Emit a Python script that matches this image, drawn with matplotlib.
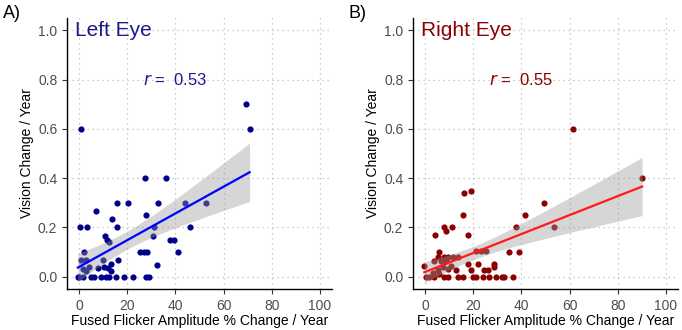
import numpy as np
import matplotlib
matplotlib.use("Agg")
import matplotlib.pyplot as plt

plt.rcParams['font.family'] = ['Liberation Sans', 'DejaVu Sans']

# left eye: flicker amplitude % change / year vs vision change / year
left_x = [0.5, 3.3, 15.8, 10.8, 11.6, 12.6, 30.6, 37.9, 39.5, 1.9, 25.4, 26.8, 28.2,
          40.9, 0.8, 2.9, 9.8, 16.0, 32.4, 13.3, 4.3, 7.7, 10.5, 11.9, 1.5, 2.9, 13.3,
          -0.5, 0.0, 1.5, 5.0, 6.3, 9.1, 11.2, 12.6, 15.4, 18.8, 22.3, 27.8, 29.2,
          1.0, 69.4, 70.8, 27.3, 35.9, 15.6, 20.4, 32.6, 43.9, 52.8, 7.0, 27.7, 13.8,
          31.0, 46.2]
left_y = [0.2, 0.2, 0.2, 0.167, 0.15, 0.14, 0.166, 0.15, 0.15, 0.1, 0.1, 0.1, 0.1,
          0.1, 0.069, 0.069, 0.069, 0.069, 0.049, 0.051, 0.038, 0.035, 0.038, 0.035, 0.031, 0.022, 0.025,
          0.0, 0.0, 0.0, 0.0, 0.0, 0.0, 0.0, 0.0, 0.0, 0.0, 0.0, 0.0, 0.0,
          0.6, 0.7, 0.6, 0.4, 0.4, 0.3, 0.3, 0.3, 0.3, 0.3, 0.266, 0.25, 0.233,
          0.2, 0.2]

# right eye
right_x = [7.7, 8.7, 11.2, 17.7, 4.1, 37.8, 21.2, 23.2, 25.3, 34.7, 38.8, 5.9,
           5.2, 8.0, 9.4, 11.5, 13.5, 3.9, 6.6, 8.7, -0.3, 17.7, 21.8, 28.8, 28.8,
           12.9, 19.1, 24.6, 26.0, 5.2, 7.3, 9.4, 10.8, 3.2, 5.9,
           0.4, 1.8, 3.9, 8.0, 9.4, 13.5, 15.6, 19.8, 21.2, 23.9, 26.7, 29.5, 31.8, 32.9, 36.4,
           61.4, 90.1, 16.3, 19.0, 49.5, 15.7, 41.5, 53.4]
right_y = [0.2, 0.184, 0.2, 0.168, 0.168, 0.2, 0.103, 0.103, 0.103, 0.1, 0.1, 0.1,
           0.08, 0.08, 0.08, 0.08, 0.08, 0.065, 0.065, 0.065, 0.042, 0.051, 0.051, 0.051, 0.038,
           0.028, 0.028, 0.028, 0.028, 0.028, 0.038, 0.031, 0.042, 0.015, 0.012,
           0.0, 0.0, 0.0, 0.0, 0.0, 0.0, 0.0, 0.0, 0.0, 0.0, 0.0, 0.0, 0.0, 0.0, 0.0,
           0.6, 0.4, 0.338, 0.349, 0.3, 0.249, 0.249, 0.2]

panels = [
    dict(x=left_x, y=left_y, tag='A)', title='Left Eye', r='0.53',
         pt='#00008B', line='#0000FF', txt='#1A1A8C'),
    dict(x=right_x, y=right_y, tag='B)', title='Right Eye', r='0.55',
         pt='#8B0000', line='#FF1A1A', txt='#8B0000'),
]

fig = plt.figure(figsize=(6.82, 3.30), dpi=100)
lefts = [67 / 682, 413 / 682]
for p, left in zip(panels, lefts):
    ax = fig.add_axes([left, 1 - 289 / 330, 265 / 682, 271 / 330])
    x = np.array(p['x'])
    y = np.array(p['y'])

    # lm fit with 95% band, like geom_smooth(method='lm')
    n = len(x)
    b, a = np.polyfit(x, y, 1)
    resid = y - (a + b * x)
    s = np.sqrt(np.sum(resid ** 2) / (n - 2))
    xs = np.linspace(x.min(), x.max(), 100)
    se = s * np.sqrt(1 / n + (xs - x.mean()) ** 2 / np.sum((x - x.mean()) ** 2))
    fit = a + b * xs
    t = 2.0

    ax.scatter(x, y, s=20, color=p['pt'], linewidths=0, zorder=3)
    ax.fill_between(xs, fit - t * se, fit + t * se, color='#999999', alpha=0.4,
                    linewidth=0, zorder=4)
    ax.plot(xs, fit, color=p['line'], linewidth=1.6, zorder=5)

    ax.set_xlim(-5, 105)
    ax.set_ylim(-0.05, 1.05)
    ax.set_xticks([0, 20, 40, 60, 80, 100])
    ax.set_yticks([0.0, 0.2, 0.4, 0.6, 0.8, 1.0])
    ax.set_yticklabels(['0.0', '0.2', '0.4', '0.6', '0.8', '1.0'])
    ax.grid(True, color='#BDBDBD', linestyle=(0, (1, 3)), linewidth=0.9)
    ax.set_axisbelow(True)
    for sp in ['top', 'right']:
        ax.spines[sp].set_visible(False)
    for sp in ['left', 'bottom']:
        ax.spines[sp].set_color('black')
        ax.spines[sp].set_linewidth(1.0)
    ax.tick_params(colors='#333333', labelcolor='#4D4D4D', labelsize=10, length=3.5, width=0.8)
    ax.set_xlabel('Fused Flicker Amplitude % Change / Year', fontsize=10, labelpad=1)
    ax.set_ylabel('Vision Change / Year', fontsize=10, labelpad=3)

    ax.text(-1.5, 1.0, p['title'], color=p['txt'], fontsize=15, ha='left', va='center')
    ax.text(40, 0.8, r'$\it{r}$ =  ' + p['r'], color=p['txt'], fontsize=12,
            ha='center', va='center')
    fig.text(left - 64 / 682, 1 - 14 / 330, p['tag'], fontsize=13, ha='left', va='center')

fig.savefig('out.png', dpi=100)
